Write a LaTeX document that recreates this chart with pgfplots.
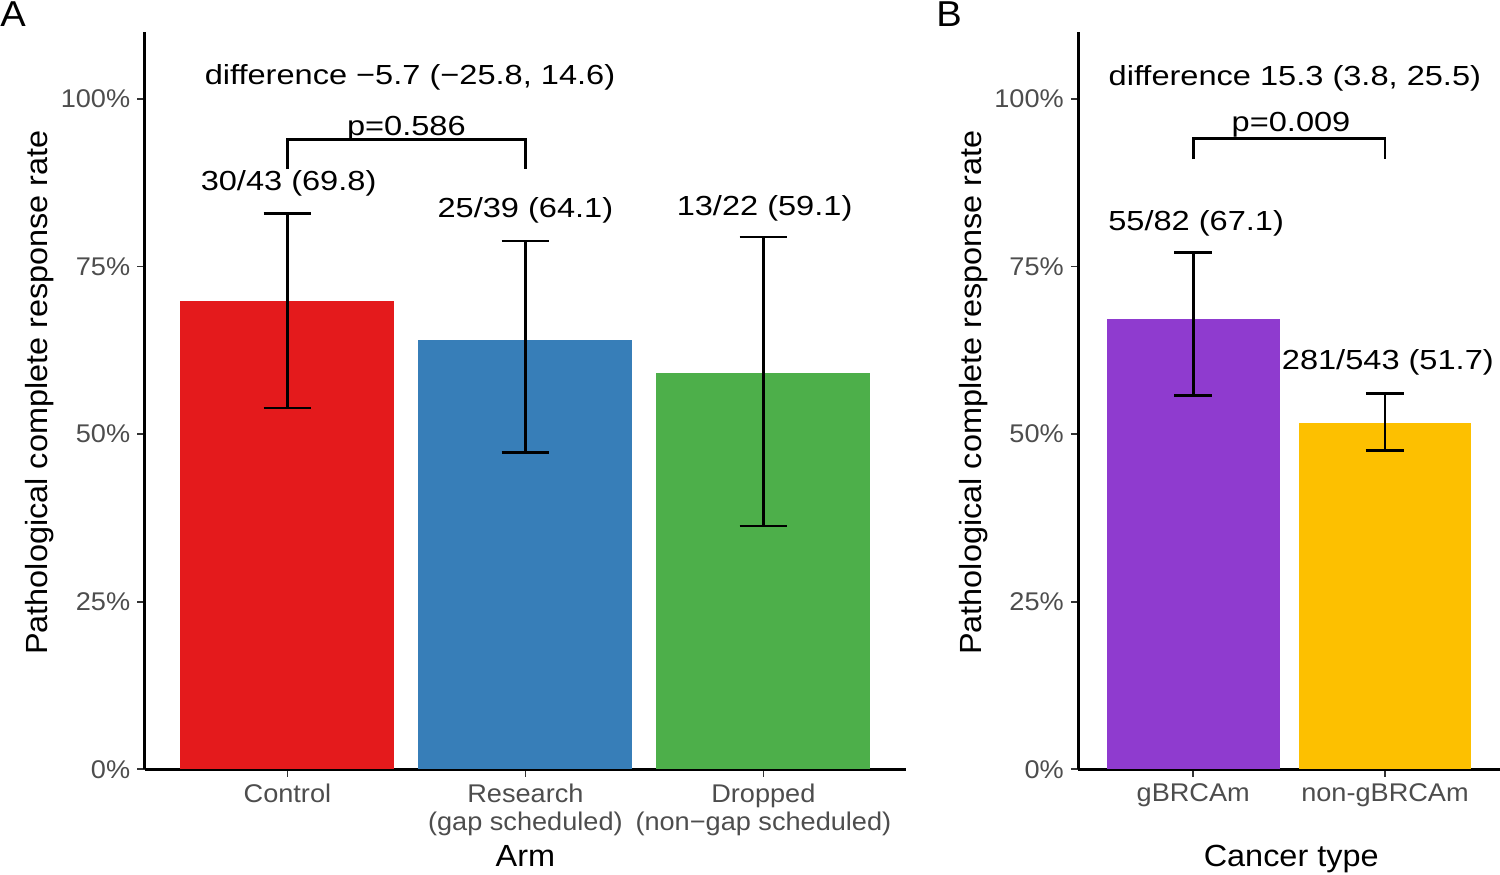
\documentclass[border=0pt]{standalone}
\usepackage{fontspec}
\setmainfont{Liberation Sans}[FakeStretch=1.06]
\newfontfamily\annfont{Liberation Sans}[FakeStretch=1.18]
\usepackage{pgfplots}
\pgfplotsset{compat=1.18}
\definecolor{cRed}{HTML}{E41A1C}
\definecolor{cBlue}{HTML}{377EB8}
\definecolor{cGreen}{HTML}{4DAF4A}
\definecolor{cPurple}{HTML}{8F3BCF}
\definecolor{cYellow}{HTML}{FDC000}
\definecolor{tickgrey}{HTML}{333333}
\definecolor{labgrey}{HTML}{4D4D4D}
\newcommand\tickfont{\fontsize{12.8}{14}\selectfont}
\newcommand\titlefont{\fontsize{15.3}{18}\selectfont}
\newcommand\annf{\annfont\fontsize{13.8}{16}\selectfont}
\pgfplotsset{panel/.style={
  scale only axis, height=368.75pt,
  axis lines=left, axis line style={-, line width=1.3pt, black},
  xmin=0.4, ymin=0, ymax=110,
  ytick={0,25,50,75,100}, yticklabels={0\%,25\%,50\%,75\%,100\%},
  tick align=outside, major tick length=3.7pt,
  tick style={line width=0.85pt, color=tickgrey},
  xticklabel style={font=\tickfont, text=labgrey, anchor=north, inner sep=0pt, align=center, yshift=-3.3pt},
  yticklabel style={font=\tickfont, text=labgrey, anchor=east, inner sep=0pt, xshift=-3.3pt},
  label style={font=\titlefont},
  xlabel style={at={(axis description cs:0.5,-0.132)}, anchor=base},
  ylabel={Pathological complete response rate},
  clip=false, unbounded coords=jump,
}}
\begin{document}
\begin{tikzpicture}[x=1pt,y=1pt]
\useasboundingbox (0,0) rectangle (750,437);
\node[anchor=base west, inner sep=0pt, font=\fontsize{18}{20}\selectfont] at (0,423.6) {A};
\node[anchor=base west, inner sep=0pt, font=\fontsize{18}{20}\selectfont] at (468,423.6) {B};
% Panel A
\begin{axis}[panel, at={(72.3pt,52.35pt)}, anchor=south west, width=380.8pt,
  xmax=3.6, xtick={1,2,3},
  xticklabels={Control,{Research\\(gap scheduled)},{Dropped\\(non−gap scheduled)}},
  xlabel={Arm},
  ylabel style={at={(axis description cs:-0.138,0.511)}, anchor=center}]
\addplot[ybar, bar width=0.9, bar shift=0pt, fill=cRed, draw=none] coordinates {(1,69.8)};
\addplot[ybar, bar width=0.9, bar shift=0pt, fill=cBlue, draw=none] coordinates {(2,64.1)};
\addplot[ybar, bar width=0.9, bar shift=0pt, fill=cGreen, draw=none] coordinates {(3,59.1)};
\addplot[black, line width=1.4pt] coordinates {(1,53.9)(1,82.9) (1,nan) (0.9,82.9)(1.1,82.9) (1,nan) (0.9,53.9)(1.1,53.9)};
\addplot[black, line width=1.4pt] coordinates {(2,47.2)(2,78.8) (2,nan) (1.9,78.8)(2.1,78.8) (2,nan) (1.9,47.2)(2.1,47.2)};
\addplot[black, line width=1.4pt] coordinates {(3,36.3)(3,79.4) (3,nan) (2.9,79.4)(3.1,79.4) (3,nan) (2.9,36.3)(3.1,36.3)};
\addplot[black, line width=1.3pt] coordinates {(1,89.5)(1,93.9)(2,93.9)(2,89.5)};
\node[anchor=base, font=\annf] at (axis cs:1.005,86.3) {30/43 (69.8)};
\node[anchor=base, font=\annf] at (axis cs:2.0,82.3) {25/39 (64.1)};
\node[anchor=base, font=\annf] at (axis cs:3.005,82.6) {13/22 (59.1)};
\node[anchor=base, font=\annf] at (axis cs:1.5,94.5) {p=0.586};
\node[anchor=base, font=\annf] at (axis cs:1.515,102.2) {difference −5.7 (−25.8, 14.6)};
\end{axis}
% Panel B
\begin{axis}[panel, at={(539.1pt,52.35pt)}, anchor=south west, width=210.9pt,
  xmax=2.6, xtick={1,2},
  xticklabels={gBRCAm,non-gBRCAm},
  xlabel={Cancer type},
  xlabel style={at={(axis description cs:0.505,-0.132)}},
  ylabel style={at={(axis description cs:-0.247,0.511)}, anchor=center}]
\addplot[ybar, bar width=0.9, bar shift=0pt, fill=cPurple, draw=none] coordinates {(1,67.1)};
\addplot[ybar, bar width=0.9, bar shift=0pt, fill=cYellow, draw=none] coordinates {(2,51.7)};
\addplot[black, line width=1.4pt] coordinates {(1,55.8)(1,77.1) (1,nan) (0.9,77.1)(1.1,77.1) (1,nan) (0.9,55.8)(1.1,55.8)};
\addplot[black, line width=1.4pt] coordinates {(2,47.5)(2,56.0) (2,nan) (1.9,56.0)(2.1,56.0) (2,nan) (1.9,47.5)(2.1,47.5)};
\addplot[black, line width=1.3pt] coordinates {(1,91.0)(1,94.1)(2,94.1)(2,91.0)};
\node[anchor=base, font=\annf] at (axis cs:1.015,80.4) {55/82 (67.1)};
\node[anchor=base, font=\annf] at (axis cs:2.015,59.6) {281/543 (51.7)};
\node[anchor=base, font=\annf] at (axis cs:1.51,95.2) {p=0.009};
\node[anchor=base, font=\annf] at (axis cs:1.53,102.0) {difference 15.3 (3.8, 25.5)};
\end{axis}
\end{tikzpicture}
\end{document}
